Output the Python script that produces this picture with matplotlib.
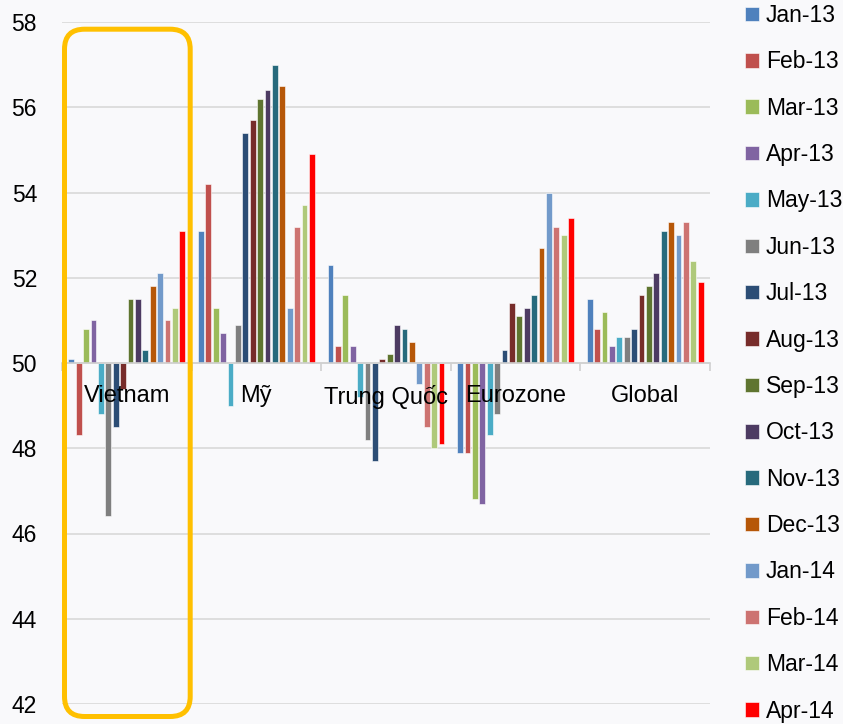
import numpy as np
import matplotlib
matplotlib.use("Agg")
from matplotlib import pyplot as plt
from matplotlib.patches import FancyBboxPatch
from matplotlib.ticker import FixedLocator

plt.rcParams["font.family"] = ["Liberation Sans", "DejaVu Sans"]

# du lieu PMI theo thang
regions = ["Vietnam", "Mỹ", "Trung Quốc", "Eurozone", "Global"]
months = ["Jan-13", "Feb-13", "Mar-13", "Apr-13", "May-13", "Jun-13", "Jul-13", "Aug-13",
          "Sep-13", "Oct-13", "Nov-13", "Dec-13", "Jan-14", "Feb-14", "Mar-14", "Apr-14"]
vietnam = [50.1, 48.3, 50.8, 51.0, 48.8, 46.4, 48.5, 49.4, 51.5, 51.5, 50.3, 51.8, 52.1, 51.0, 51.3, 53.1]
my = [53.1, 54.2, 51.3, 50.7, 49.0, 50.9, 55.4, 55.7, 56.2, 56.4, 57.0, 56.5, 51.3, 53.2, 53.7, 54.9]
trung_quoc = [52.3, 50.4, 51.6, 50.4, 49.2, 48.2, 47.7, 50.1, 50.2, 50.9, 50.8, 50.5, 49.5, 48.5, 48.0, 48.1]
eurozone = [47.9, 47.9, 46.8, 46.7, 48.3, 48.8, 50.3, 51.4, 51.1, 51.3, 51.6, 52.7, 54.0, 53.2, 53.0, 53.4]
global_pmi = [51.5, 50.8, 51.2, 50.4, 50.6, 50.6, 50.8, 51.6, 51.8, 52.1, 53.1, 53.3, 53.0, 53.3, 52.4, 51.9]

colors = ["#4F81BD", "#C0504D", "#9BBB59", "#8064A2", "#4BACC6", "#7F7F7F", "#2C4D75", "#772C2A",
          "#5F7530", "#4D3B62", "#276A7C", "#B65708", "#729ACA", "#CD7371", "#AFC97A", "#FF0000"]

values = np.array([vietnam, my, trung_quoc, eurozone, global_pmi])
base = 50

fig = plt.figure(figsize=(8.43, 7.24), dpi=100, facecolor="#f9f9fb")
ax = fig.add_axes([62 / 843, 20 / 724, 648 / 843, 682 / 724])
ax.set_facecolor("none")

x = np.arange(len(regions))
step = 0.0571
for j, m in enumerate(months):
    v = values[:, j]
    ax.bar(x + (j - 7.5) * step, v - base, bottom=base, width=0.046, color=colors[j],
           edgecolor="white", linewidth=0.4, label=m, zorder=3)

ax.set_xlim(-0.5, len(regions) - 0.5)
ax.set_ylim(42, 58)
ax.set_yticks(np.arange(42, 59, 2))
ax.set_axisbelow(True)
ax.grid(axis="y", color="#d9d9d9", linewidth=1.2)
ax.tick_params(axis="y", length=0, pad=18, labelsize=16.5)

for s in ["top", "right", "left"]:
    ax.spines[s].set_visible(False)
ax.spines["bottom"].set_position(("data", base))
ax.spines["bottom"].set_color("#d0d0d0")
ax.spines["bottom"].set_linewidth(1.2)
ax.spines["bottom"].set_zorder(4)

ax.set_xticks(x)
ax.set_xticklabels(regions)
ax.tick_params(axis="x", which="major", length=0, pad=15.5, labelsize=17)
ax.xaxis.set_minor_locator(FixedLocator(np.arange(-0.5, len(regions), 1)))
ax.tick_params(axis="x", which="minor", length=6, width=1.2, color="#d0d0d0")
# nhan danh muc nam tren cac cot
ax.xaxis.set_zorder(5)

# khung vang quanh Vietnam
box = FancyBboxPatch((0.645, 0.075), 1.902 - 0.645, 6.948 - 0.075,
                     boxstyle="round,pad=0,rounding_size=0.2",
                     transform=fig.dpi_scale_trans, facecolor="none",
                     edgecolor="#FFC000", linewidth=3.6, zorder=10)
fig.patches.append(box)

fig.legend(loc="upper left", bbox_to_anchor=(745 / 843, 1 - 4 / 724), frameon=False,
           fontsize=16.5, borderpad=0, borderaxespad=0, labelspacing=1.02,
           handlelength=0.6, handleheight=0.6, handletextpad=0.3)

plt.savefig("out.png", dpi=100, facecolor=fig.get_facecolor())
